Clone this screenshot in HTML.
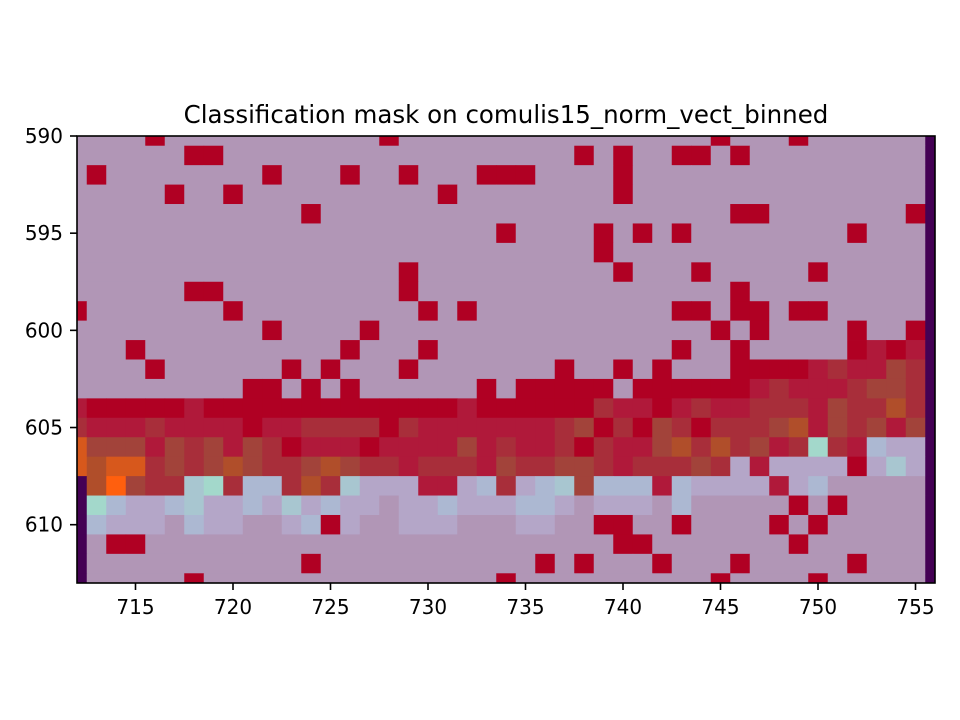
<!DOCTYPE html>
<html><head><meta charset="utf-8"><style>
html,body{margin:0;padding:0;background:#fff;}
svg{display:block;font-family:"DejaVu Sans","Liberation Sans",sans-serif;}
</style></head><body>
<svg id="chart" width="960" height="720" viewBox="0 0 960 720">
<text x="506" y="123" text-anchor="middle" font-size="24.5" fill="#000">Classification mask on comulis15_norm_vect_binned</text>
<defs><clipPath id="plotclip"><rect x="77" y="136" width="858" height="447"/></clipPath></defs>
<g id="cells" clip-path="url(#plotclip)"></g>
<rect x="77" y="136" width="858" height="447" fill="none" stroke="#000" stroke-width="1.6"/>
<g id="axes"></g>
</svg>
<script>
const xMin = 712, xMax = 756, yMin = 590, yMax = 613;
const colStart = 712;
const rowStart = 590;
const xTicks = [715, 720, 725, 730, 735, 740, 745, 750, 755];
const yTicks = [590, 595, 600, 605, 610];
const classColors = {
  '.': '#b196b6', 'R': '#b00023', 'r': '#b0193a', 'b': '#a82e3a', 'B': '#a2433a',
  'o': '#b04e2a', 'O': '#ff5f0e', 'd': '#d7581c', 'l': '#b4a6c8', 's': '#acb8d2',
  't': '#a8c6d0', 'm': '#a3d8cb', 'p': '#440154'
};
const gridRows = [
  "....R ..... ..... .R... ..... ..... ...R. ..R.. ....p",
  "..... .RR.. ..... ..... ..... .R.R. .RR.R ..... ....p",
  ".R... ..... R...R ..R.. .RRR. ...R. ..... ..... ....p",
  "..... R..R. ..... ....R ..... ...R. ..... ..... ....p",
  "..... ..... ..R.. ..... ..... ..... ....R R.... ...Rp",
  "..... ..... ..... ..... ..R.. ..R.R .R... ..... R...p",
  "..... ..... ..... ..... ..... ..R.. ..... ..... ....p",
  "..... ..... ..... ..R.. ..... ...R. ..R.. ...R. ....p",
  "..... .RR.. ..... ..R.. ..... ..... ....R ..... ....p",
  "R.... ...R. ..... ...R. R.... ..... .RR.R R.RR. ....p",
  "..... ..... R.... R.... ..... ..... ...R. R.... R..Rp",
  "...R. ..... ....R ...R. ..... ..... .R..R ..... RrRrp",
  "....R ..... .R.R. ..R.. ..... R..R. R...R RRRrb rrBbp",
  "..... ....R R.R.R ..... .R.RR RRR.R RRRRR rbrrr bBBbp",
  "rRRRR RrRRR RRRRR RRRRR rRRRR RRbrr Rrbrr bbbrB bbobp",
  "brrrb rrrrR rrbbb bRbrr rrrrr bBRbR BbRbb bBorB bBrBp",
  "dBBBr BbBrB bRrrr Rrrrr Brbrr bRbrr Bobob Brbmb rsllp",
  "doddb BbBoB bbBoB bbrbb brBbb BBbrb bbBbl rllll Rltlp",
  "poOBb btmbs sbobt lllrr lsbls tBsss rslll lrls. ....p",
  "pmsll stlls ltlsl l.lls lllss l.lll .s... ..R.R ....p",
  "pslll .sll. .lsRl ..lll ...ll ..RR. .R... .R.R. ....p",
  "p.RR. ..... ..... ..... ..... ...RR ..... ..R.. ....p",
  "p.... ..... ..R.. ..... ....R .R... R...R ..... R...p",
  "p.... .R... ..... ..... ..R.. ..... ...R. ...R. ....p"
];
const PL = 77, PR = 935, PT = 136, PB = 583;
function sx(v){ return PL + (v - xMin) / (xMax - xMin) * (PR - PL); }
function sy(v){ return PT + (v - yMin) / (yMax - yMin) * (PB - PT); }
const NS = 'http://www.w3.org/2000/svg';
const cellG = document.getElementById('cells');
gridRows.forEach((rowStr, ri) => {
  const chars = rowStr.replace(/ /g, '');
  const yv = rowStart + ri;
  for (let ci = 0; ci < chars.length; ci++) {
    const xv = colStart + ci;
    const r = document.createElementNS(NS, 'rect');
    const x0 = sx(xv - 0.5), x1 = sx(xv + 0.5), y0 = sy(yv - 0.5), y1 = sy(yv + 0.5);
    r.setAttribute('x', x0.toFixed(2));
    r.setAttribute('y', y0.toFixed(2));
    r.setAttribute('width', (x1 - x0 + 0.4).toFixed(2));
    r.setAttribute('height', (y1 - y0 + 0.4).toFixed(2));
    r.setAttribute('fill', classColors[chars[ci]] || classColors['.']);
    
    
    cellG.appendChild(r);
  }
});
const axG = document.getElementById('axes');
xTicks.forEach(t => {
  const x = sx(t);
  const l = document.createElementNS(NS, 'line');
  l.setAttribute('x1', x); l.setAttribute('x2', x);
  l.setAttribute('y1', PB); l.setAttribute('y2', PB + 7);
  l.setAttribute('stroke', '#000'); l.setAttribute('stroke-width', '1.6');
  
  
  axG.appendChild(l);
  const tx = document.createElementNS(NS, 'text');
  tx.setAttribute('x', x); tx.setAttribute('y', PB + 31);
  tx.setAttribute('text-anchor', 'middle'); tx.setAttribute('font-size', '20');
  tx.textContent = t;
  
  
  axG.appendChild(tx);
});
yTicks.forEach(t => {
  const y = sy(t);
  const l = document.createElementNS(NS, 'line');
  l.setAttribute('x1', PL - 7); l.setAttribute('x2', PL);
  l.setAttribute('y1', y); l.setAttribute('y2', y);
  l.setAttribute('stroke', '#000'); l.setAttribute('stroke-width', '1.6');
  
  
  axG.appendChild(l);
  const tx = document.createElementNS(NS, 'text');
  tx.setAttribute('x', PL - 14); tx.setAttribute('y', y + 7);
  tx.setAttribute('text-anchor', 'end'); tx.setAttribute('font-size', '20');
  tx.textContent = t;
  
  
  axG.appendChild(tx);
});
</script>
</body></html>
